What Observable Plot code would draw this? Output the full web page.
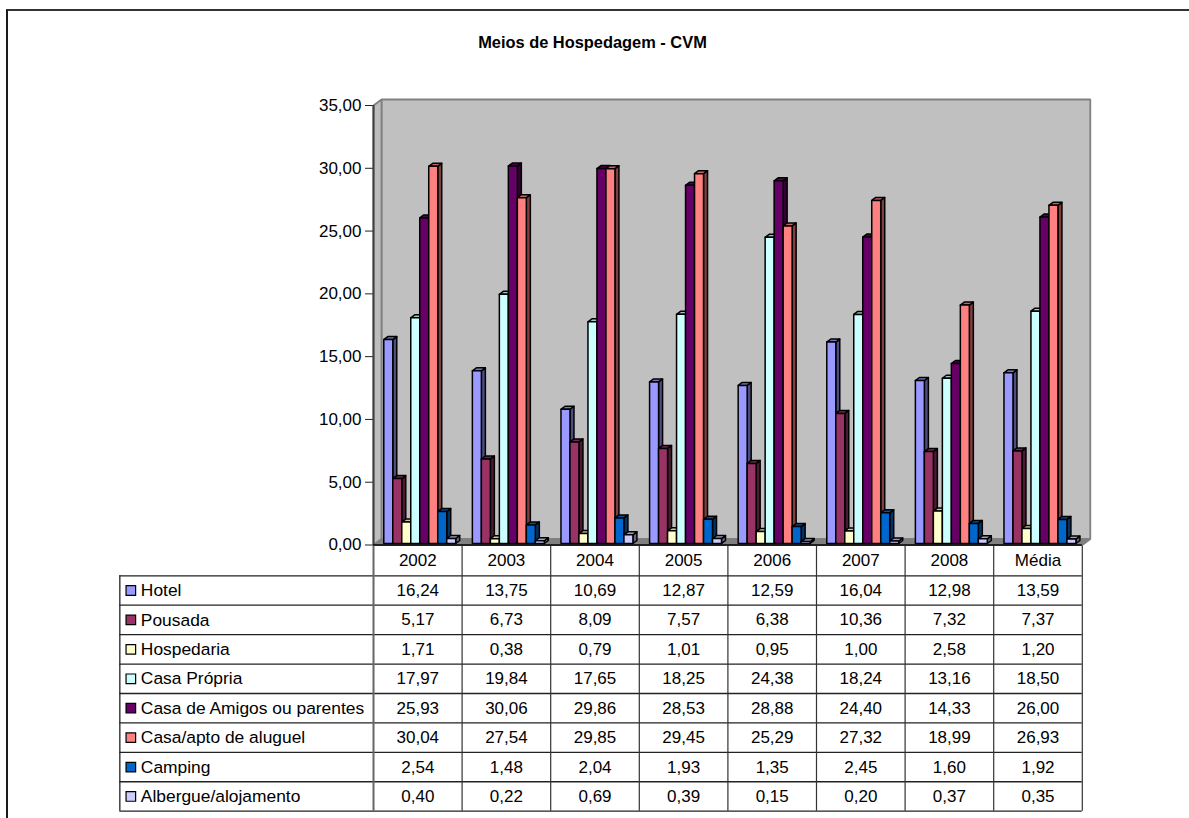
<!DOCTYPE html>
<html>
<head>
<meta charset="utf-8">
<script src="https://cdn.jsdelivr.net/npm/d3@7"></script>
<script src="https://cdn.jsdelivr.net/npm/@observablehq/plot@0.6"></script>
<style>
html,body{margin:0;padding:0;background:#fff;width:1189px;height:818px;overflow:hidden}
#page{position:relative;width:1189px;height:818px;font-family:"Liberation Sans",Arial,sans-serif}
#frame{position:absolute;left:6px;top:9px;right:0;bottom:0;border-left:2px solid #1a1a1a;border-top:2px solid #333}
#title{position:absolute;left:0;width:1185px;top:33px;text-align:center;font-size:16.4px;line-height:19px;font-weight:bold;color:#000}
#chart,#table{position:absolute;left:0;top:0}
svg{background:transparent!important}
</style>
</head>
<body>
<div id="page">
  <div id="frame"></div>
  <div id="title">Meios de Hospedagem - CVM</div>
  <div id="chart"></div>
  <div id="table"></div>
</div>
<script>
const years = ["2002","2003","2004","2005","2006","2007","2008","Média"];
const seriesNames = ["Hotel","Pousada","Hospedaria","Casa Própria","Casa de Amigos ou parentes","Casa/apto de aluguel","Camping","Albergue/alojamento"];
const seriesColors = ["#9999FF","#993366","#FFFFCC","#CCFFFF","#660066","#FF8080","#0066CC","#CCCCFF"];
const hotel = [16.24,13.75,10.69,12.87,12.59,16.04,12.98,13.59];
const pousada = [5.17,6.73,8.09,7.57,6.38,10.36,7.32,7.37];
const hospedaria = [1.71,0.38,0.79,1.01,0.95,1.00,2.58,1.20];
const casaPropria = [17.97,19.84,17.65,18.25,24.38,18.24,13.16,18.50];
const casaAmigos = [25.93,30.06,29.86,28.53,28.88,24.40,14.33,26.00];
const casaAluguel = [30.04,27.54,29.85,29.45,25.29,27.32,18.99,26.93];
const camping = [2.54,1.48,2.04,1.93,1.35,2.45,1.60,1.92];
const albergue = [0.40,0.22,0.69,0.39,0.15,0.20,0.37,0.35];
const seriesValues = [hotel,pousada,hospedaria,casaPropria,casaAmigos,casaAluguel,camping,albergue];

const fmt = v => v.toFixed(2).replace(".", ",");
const shade = (c, k) => { const r = d3.rgb(c); return d3.rgb(r.r*k, r.g*k, r.b*k).formatHex(); };

// Scale geometry (pixel frame of the plots)
const W = 1189, H = 818, plotL = 373, plotR = 1081.8;
const marginRight = W - plotR;
const yTop = 105, yZero = 544.5;
const xUnit = (plotR - plotL) / 8, yUnit = (yZero - yTop) / 35;
// Depths of the 3-D box and of the bars, in data units
const wallDX = 8 / xUnit, wallDY = 6 / yUnit;
const barDX = 4 / xUnit, barDY = 3 / yUnit;
const barStart = 0.116, barW = 0.1015;

const poly = (id, fill, pts) => pts.concat([pts[0]]).map(([x, y]) => ({id, fill, x, y}));

const wallTop = 35 + wallDY;
const walls = [
  ...poly("back", "#C0C0C0", [[wallDX,wallDY],[8+wallDX,wallDY],[8+wallDX,wallTop],[wallDX,wallTop]]),
  ...poly("left", "#BDBDBD", [[0,0],[wallDX,wallDY],[wallDX,wallTop],[0,35]]),
  ...poly("floor", "#808080", [[0,0],[wallDX,wallDY],[8+wallDX,wallDY],[8,0]]),
];

const faces = [];
seriesValues.forEach((vals, s) => {
  const c = seriesColors[s];
  vals.forEach((v, g) => {
    const x0 = g + barStart + s * barW, x1 = x0 + barW;
    faces.push(...poly(`s${s}g${g}`, shade(c, .5), [[x1,0],[x1+barDX,barDY],[x1+barDX,v+barDY],[x1,v]]));
    faces.push(...poly(`t${s}g${g}`, shade(c, .78), [[x0,v],[x1,v],[x1+barDX,v+barDY],[x0+barDX,v+barDY]]));
    faces.push(...poly(`f${s}g${g}`, c, [[x0,0],[x1,0],[x1,v],[x0,v]]));
  });
});

const baseStyle = {fontFamily: '"Liberation Sans",Arial,sans-serif', fontSize: "17px", color: "#000", background: "transparent", overflow: "visible"};

const chart = Plot.plot({
  width: W, height: H,
  marginLeft: plotL, marginRight, marginTop: yTop, marginBottom: H - yZero,
  style: baseStyle,
  x: {domain: [0, 8], axis: null},
  y: {domain: [0, 35], axis: null},
  marks: [
    Plot.line(walls, {x: "x", y: "y", z: "id", fill: "fill", stroke: "#808080", strokeWidth: 1.8, strokeLinejoin: "miter"}),
    Plot.line(faces, {x: "x", y: "y", z: "id", fill: "fill", stroke: "#000", strokeWidth: 1.5, dy: -1.5, strokeLinejoin: "round"}),
    Plot.axisY({ticks: d3.range(0, 36, 5), tickFormat: fmt, tickSize: 8, tickPadding: 4, stroke: "#222", fontSize: 17, label: null}),
    Plot.ruleX([0], {y1: 0, y2: 35, stroke: "#404040", strokeWidth: 2}),
    Plot.ruleY([0], {x1: 0, x2: 8, stroke: "#000", strokeWidth: 1.6}),
  ]
});
document.getElementById("chart").append(chart);

// Table
const rowTop = 575.3 - 29.43, rowBottom = 810.7;
const legendEdge = -2.863;
const rows = d3.range(1, 10);
const columns = d3.range(0, 9);
const headerCells = years.map((t, i) => ({t, x: i + .5, y: .5}));
const valueCells = seriesValues.flatMap((vals, s) => vals.map((v, g) => ({t: fmt(v), x: g + .5, y: s + 1.5})));
const legendRows = seriesNames.map((name, s) => ({name, color: seriesColors[s], y: s + 1.5}));

const table = Plot.plot({
  width: W, height: H,
  marginLeft: plotL, marginRight, marginTop: rowTop, marginBottom: H - rowBottom,
  style: baseStyle,
  x: {domain: [0, 8], axis: null},
  y: {domain: [9, 0], axis: null},
  marks: [
    Plot.ruleY(rows, {x1: legendEdge, x2: 8, stroke: "#222", strokeWidth: 1.3}),
    Plot.ruleX(columns, {y1: 0, y2: 9, stroke: d => d === 0 ? "#666" : "#333", strokeWidth: d => d === 0 ? 2 : 1.2}),
    Plot.ruleX([legendEdge], {y1: 1, y2: 9, stroke: "#222", strokeWidth: 1.3}),
    Plot.dot(legendRows, {x: legendEdge, dx: 11, y: "y", symbol: "square", r: 5.4, fill: "color", stroke: "#000", strokeWidth: 1.2}),
    Plot.text(legendRows, {x: legendEdge, dx: 21, y: "y", text: "name", textAnchor: "start", fontSize: 17.4, fill: "#000"}),
    Plot.text(headerCells, {x: "x", y: "y", text: "t", fontSize: 17, fill: "#000", dy: -1}),
    Plot.text(valueCells, {x: "x", y: "y", text: "t", fontSize: 17, fill: "#000"}),
  ]
});
document.getElementById("table").append(table);
</script>
</body>
</html>
